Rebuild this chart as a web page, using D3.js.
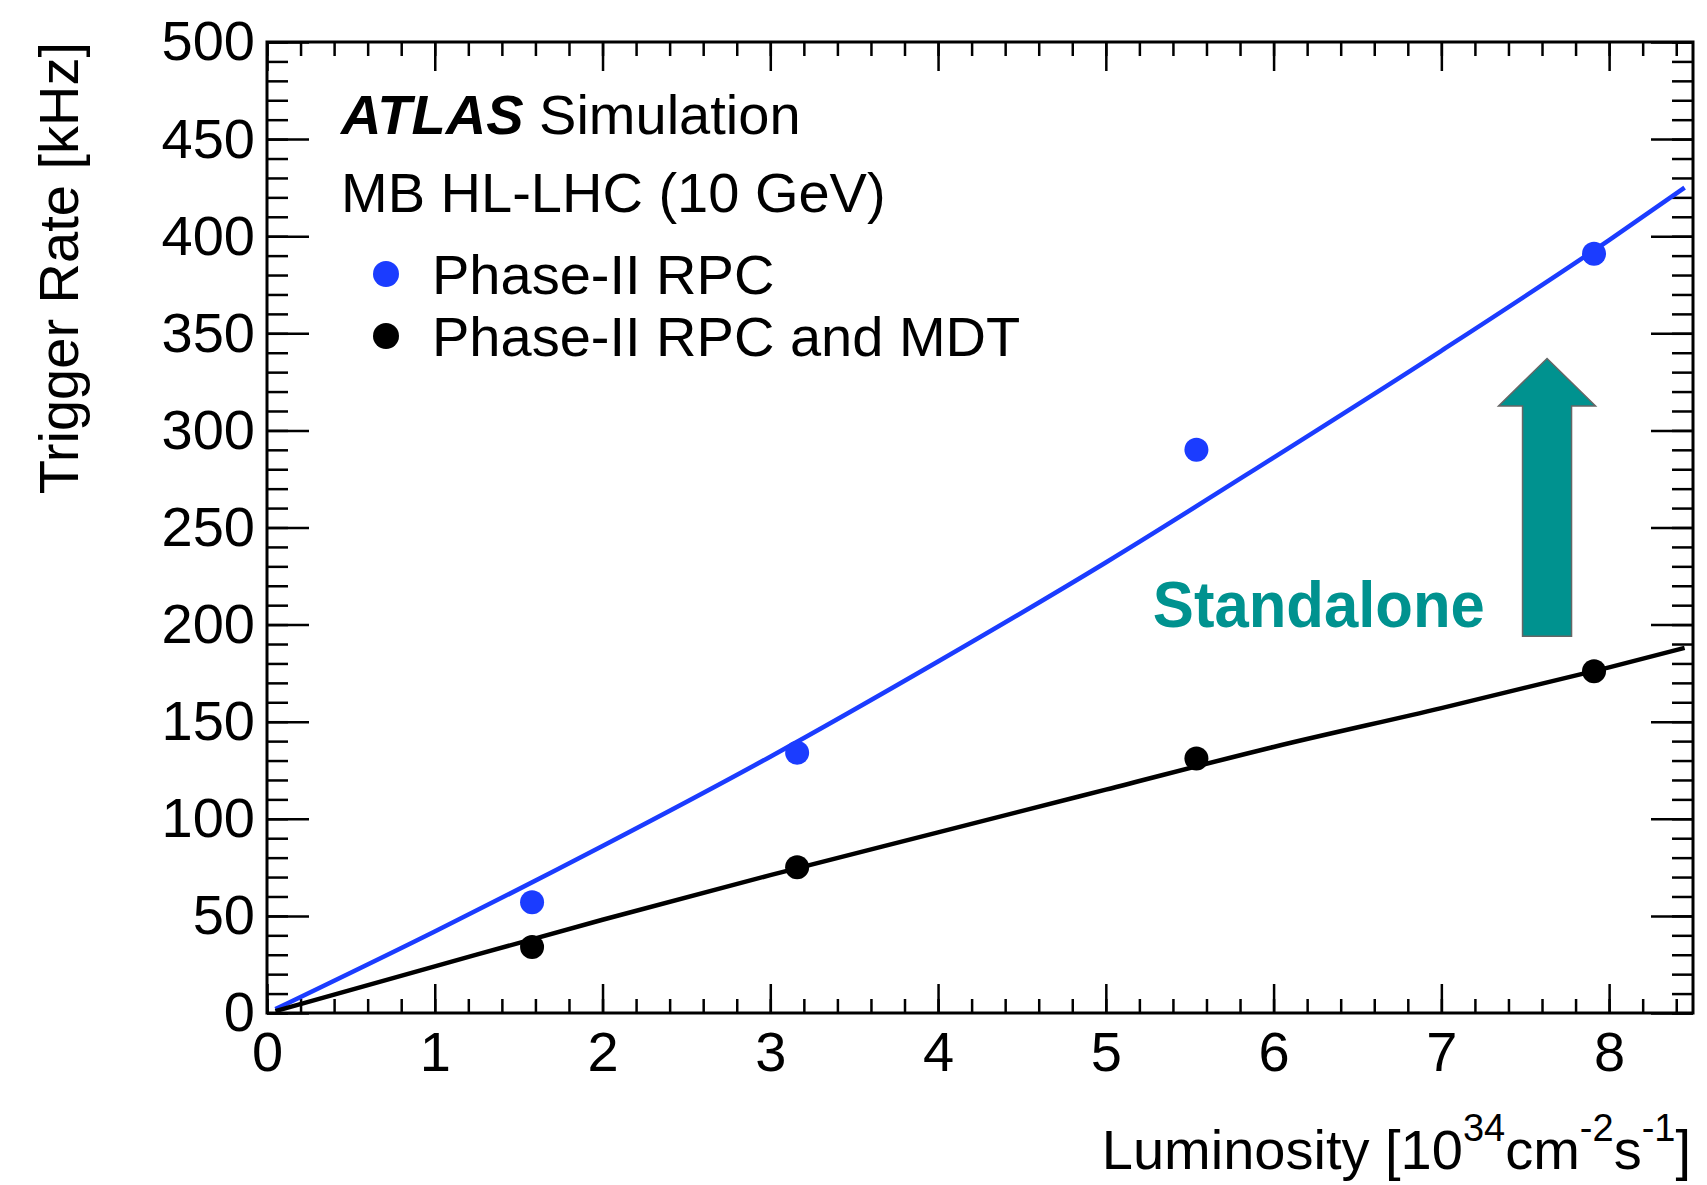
<!DOCTYPE html>
<html lang="en">
<head>
    <meta charset="UTF-8">
    <title>Trigger Rate vs Luminosity</title>
    <script src="https://d3js.org/d3.v7.min.js"></script>
    <style>
        body { margin: 0; background: #fff; }
        text { font-family: "Liberation Sans", Arial, Helvetica, sans-serif; fill: #000; }
    </style>
</head>
<body>
    <script>
        // measured points
        const lumi = [1.58, 3.16, 5.54, 7.91];
        const rateRPC = [57, 134, 290, 391];
        const rateRPCMDT = [34, 75, 131, 176];

        // fit curves
        const fitX = [0.05, 1, 2, 3, 4, 5, 6, 7, 8, 8.45];
        const fitRPC = [2, 42, 86, 132, 181, 232, 286, 341, 398, 425];
        const fitRPCMDT = [1, 24, 48, 71, 93, 115, 137, 157, 178, 188];

        const yTicks = [0, 50, 100, 150, 200, 250, 300, 350, 400, 450, 500];
        const xTicks = [0, 1, 2, 3, 4, 5, 6, 7, 8];
        const legendLabels = ["Phase-II RPC", "Phase-II RPC and MDT"];

        const w = 1707;
        const h = 1185;
        const margin = {top: 42, right: 14, bottom: 172, left: 267};
        const blue = "#1b3cff";
        const teal = "#00928f";

        const xScale = d3.scaleLinear()
                        .domain([0, 8.5])
                        .range([margin.left, w - margin.right]);

        const yScale = d3.scaleLinear()
                        .domain([0, 500])
                        .range([h - margin.bottom, margin.top]);

        const svg = d3.select("body")
            .append("svg")
            .attr("width", w)
            .attr("height", h);

        // minor tick values
        const yMinor = d3.range(0, 501, 10);
        const xMinor = d3.range(0, 43).map(i => i * 0.2);

        function styleAxis(g) {
            g.select(".domain").remove();
            g.selectAll(".tick line").attr("stroke", "#000").attr("stroke-width", 2.5);
            g.selectAll(".tick text")
                .attr("font-family", "Liberation Sans, Arial, sans-serif")
                .attr("font-size", 56)
                .attr("fill", "#000");
        }

        const x0 = margin.left, x1 = w - margin.right;
        const y0 = h - margin.bottom, y1 = margin.top;

        // left axis
        svg.append("g").attr("transform", "translate(" + x0 + ",0)")
            .call(d3.axisLeft(yScale).tickValues(yMinor).tickSizeInner(-21).tickFormat(""))
            .call(styleAxis);
        svg.append("g").attr("transform", "translate(" + x0 + ",0)")
            .call(d3.axisLeft(yScale).tickValues(yTicks).tickSizeInner(-42).tickPadding(12))
            .call(styleAxis);

        // right axis
        svg.append("g").attr("transform", "translate(" + x1 + ",0)")
            .call(d3.axisRight(yScale).tickValues(yMinor).tickSizeInner(-21).tickFormat(""))
            .call(styleAxis);
        svg.append("g").attr("transform", "translate(" + x1 + ",0)")
            .call(d3.axisRight(yScale).tickValues(yTicks).tickSizeInner(-42).tickFormat(""))
            .call(styleAxis);

        // bottom axis
        svg.append("g").attr("transform", "translate(0," + y0 + ")")
            .call(d3.axisBottom(xScale).tickValues(xMinor).tickSizeInner(-14).tickFormat(""))
            .call(styleAxis);
        svg.append("g").attr("transform", "translate(0," + y0 + ")")
            .call(d3.axisBottom(xScale).tickValues(xTicks).tickSizeInner(-29).tickPadding(18).tickFormat(d3.format("d")))
            .call(styleAxis);

        // top axis
        svg.append("g").attr("transform", "translate(0," + y1 + ")")
            .call(d3.axisTop(xScale).tickValues(xMinor).tickSizeInner(-14).tickFormat(""))
            .call(styleAxis);
        svg.append("g").attr("transform", "translate(0," + y1 + ")")
            .call(d3.axisTop(xScale).tickValues(xTicks).tickSizeInner(-29).tickFormat(""))
            .call(styleAxis);

        // frame
        svg.append("rect")
            .attr("x", x0).attr("y", y1)
            .attr("width", x1 - x0).attr("height", y0 - y1)
            .attr("fill", "none")
            .attr("stroke", "#000")
            .attr("stroke-width", 3);

        // fit lines
        const line = d3.line()
            .x(d => xScale(d[0]))
            .y(d => yScale(d[1]))
            .curve(d3.curveMonotoneX);

        svg.append("path")
            .datum(fitX.map((x, i) => [x, fitRPC[i]]))
            .attr("d", line)
            .attr("fill", "none")
            .attr("stroke", blue)
            .attr("stroke-width", 4.5);

        svg.append("path")
            .datum(fitX.map((x, i) => [x, fitRPCMDT[i]]))
            .attr("d", line)
            .attr("fill", "none")
            .attr("stroke", "#000")
            .attr("stroke-width", 4.5);

        // points
        svg.selectAll("circle.rpc")
            .data(lumi.map((x, i) => [x, rateRPC[i]]))
            .enter()
            .append("circle")
            .attr("class", "rpc")
            .attr("cx", d => xScale(d[0]))
            .attr("cy", d => yScale(d[1]))
            .attr("r", 12)
            .attr("fill", blue);

        svg.selectAll("circle.mdt")
            .data(lumi.map((x, i) => [x, rateRPCMDT[i]]))
            .enter()
            .append("circle")
            .attr("class", "mdt")
            .attr("cx", d => xScale(d[0]))
            .attr("cy", d => yScale(d[1]))
            .attr("r", 12)
            .attr("fill", "#000");

        // arrow annotation (data coords)
        const arrow = {x: 7.63, from: 194, to: 337, head: 312.6};
        const ax = xScale(arrow.x);
        const hw = 48.5, sw = 24.5;
        const pts = [
            [ax - sw, yScale(arrow.from)],
            [ax - sw, yScale(arrow.head)],
            [ax - hw, yScale(arrow.head)],
            [ax, yScale(arrow.to)],
            [ax + hw, yScale(arrow.head)],
            [ax + sw, yScale(arrow.head)],
            [ax + sw, yScale(arrow.from)]
        ];
        svg.append("polygon")
            .attr("points", pts.map(p => p.join(",")).join(" "))
            .attr("fill", teal)
            .attr("stroke", "#666")
            .attr("stroke-width", 1.5);

        svg.append("text")
            .attr("x", xScale(5.28))
            .attr("y", yScale(199))
            .attr("font-family", "Noto Sans, Open Sans, sans-serif")
            .attr("font-weight", "bold")
            .attr("font-size", 64)
            .attr("textLength", 332)
            .attr("lengthAdjust", "spacingAndGlyphs")
            .style("fill", teal)
            .text("Standalone");

        // labels
        const atlas = svg.append("text")
            .attr("x", 341)
            .attr("y", 134)
            .attr("font-size", 56);
        atlas.append("tspan")
            .attr("font-weight", "bold")
            .attr("font-style", "italic")
            .text("ATLAS");
        atlas.append("tspan").text(" Simulation");

        svg.append("text")
            .attr("x", 341)
            .attr("y", 212)
            .attr("font-size", 56)
            .text("MB HL-LHC (10 GeV)");

        // legend
        const legendColors = [blue, "#000"];
        const legendY = [274, 336];
        legendLabels.forEach((lab, i) => {
            svg.append("circle")
                .attr("cx", 386)
                .attr("cy", legendY[i])
                .attr("r", 13)
                .attr("fill", legendColors[i]);
            svg.append("text")
                .attr("x", 432)
                .attr("y", legendY[i] + 20)
                .attr("font-size", 56)
                .text(lab);
        });

        // axis titles
        svg.append("text")
            .attr("transform", "translate(78," + y1 + ") rotate(-90)")
            .attr("text-anchor", "end")
            .attr("font-size", 56)
            .text("Trigger Rate [kHz]");

        const xt = svg.append("text")
            .attr("x", 1691)
            .attr("y", 1169)
            .attr("text-anchor", "end")
            .attr("font-size", 56);
        xt.append("tspan").text("Luminosity [10");
        xt.append("tspan").attr("font-size", 38).attr("dy", -28).text("34");
        xt.append("tspan").attr("dy", 28).text("cm");
        xt.append("tspan").attr("font-size", 38).attr("dy", -28).text("-2");
        xt.append("tspan").attr("dy", 28).text("s");
        xt.append("tspan").attr("font-size", 38).attr("dy", -28).text("-1");
        xt.append("tspan").attr("dy", 28).text("]");
    </script>
</body>
</html>
